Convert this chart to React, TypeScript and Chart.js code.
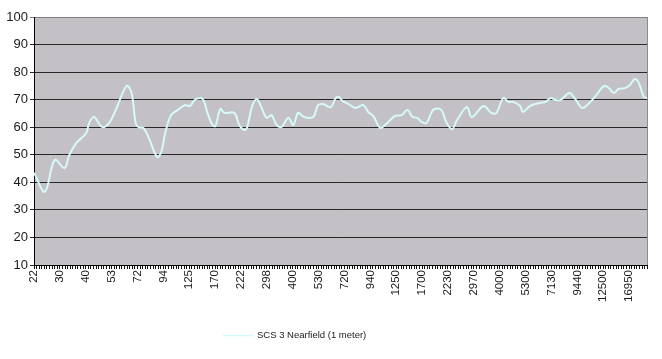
import React, { useEffect, useRef } from 'react';
import { Chart, registerables } from 'chart.js';

Chart.register(...registerables);

// Category tick labels (every 10th category of the 1/24-octave frequency axis)
const TICK_LABELS = ['22', '30', '40', '53', '72', '94', '125', '170', '222', '298', '400', '530', '720', '940', '1250', '1700', '2230', '2970', '4000', '5300', '7130', '9440', '12500', '16950'];
const LAST_CATEGORY = 237;
const SERIES_NAME = 'SCS 3 Nearfield (1 meter)';

// Category position of each read-off point
const POINT_INDEX = [
  0, 4.2, 8.0, 11.8, 13.7, 16.4, 20.2, 21.3, 23.2, 26.3, 29, 31.6, 35.8, 37.7, 39.3, 40.4, 42.3, 44.2, 47.6, 49.2,
  50.7, 53, 55.6, 58.3, 60.2, 62.5, 65.2, 67.1, 69, 70.1, 72, 73.6, 77.4, 79.3, 81.2, 82.3, 84.2, 86.1, 88, 89.9,
  91.8, 93.8, 95.7, 98.3, 100.2, 102.1, 104.4, 107.9, 109.8, 111.7, 114.7, 116.6, 117.8, 119.3, 121.6, 124.2, 127.3, 129.2, 131.1, 133.8,
  135.7, 139.5, 142.1, 144.4, 146.3, 148.2, 149.8, 151.7, 153.6, 154.7, 157.4, 159.3, 161.6, 163.5, 167.3, 169.2, 173.8, 176.8, 178.7, 181.4,
  183.3, 185.2, 187.9, 189, 191.7, 195.5, 197.8, 199.7, 201.6, 203.5, 206.9, 209.2, 211.9, 214.6, 216.8, 220.3, 222.2, 224.1, 226, 228.4,
  230.3, 232.2, 233.8, 235.7, 237,
];

// SPL readings (dB)
const LEVEL_DB = [
  43.5, 36.6, 48.1, 45.2, 50, 54.3, 57.9, 61.5, 63.7, 60.1, 61.5, 66.3, 75, 72.4, 61.5, 60, 59.7, 56.5, 49.2, 51,
  57.9, 64.4, 66.3, 68, 67.7, 70.2, 70.2, 65, 60.8, 60.4, 66.6, 65.2, 65.2, 60.8, 59, 59.7, 67.3, 70.2, 67, 63.4,
  64.4, 60.8, 60.1, 63.4, 60.8, 65.2, 63.7, 63.7, 68, 68.4, 67.3, 70.6, 71, 69.5, 68.4, 67, 68, 65.5, 64.1, 59.7,
  60.8, 64.1, 64.4, 66.3, 63.7, 63.4, 61.9, 61.5, 65.3, 66.6, 66.3, 61.9, 59.3, 62.6, 67.3, 63.7, 67.7, 65.2, 65.2, 70.6,
  69.2, 69.2, 67.7, 65.5, 67.7, 68.8, 69.2, 70.6, 69.9, 69.9, 72.4, 70.2, 67, 68.8, 71, 75, 74.2, 72.4, 73.9, 74.2,
  75.3, 77.5, 76, 71, 70.6,
];

const Y_MIN = 10;
const Y_MAX = 100;
const Y_STEP = 10;

const LINE_COLOR = '#d6fafa';
const PLOT_BG = '#c3c1c5';
const FONT = 'Arial, "Liberation Sans", sans-serif';

const excelLook = {
  id: 'excelLook',
  beforeDraw(chart: any) {
    const { ctx, chartArea: a } = chart;
    ctx.save();
    ctx.fillStyle = PLOT_BG;
    ctx.fillRect(a.left, a.top, a.right - a.left, a.bottom - a.top);
    ctx.restore();
  },
  afterDraw(chart: any) {
    const { ctx, chartArea: a } = chart;
    ctx.save();
    // right border of the plot area
    ctx.strokeStyle = '#8c8c8c';
    ctx.lineWidth = 1;
    ctx.beginPath();
    ctx.moveTo(Math.round(a.right) + 0.5, a.top);
    ctx.lineTo(Math.round(a.right) + 0.5, a.bottom);
    ctx.stroke();
    // legend
    const ds = chart.data.datasets[0];
    const ly = 335.5;
    ctx.strokeStyle = ds.borderColor;
    ctx.lineWidth = 1.5;
    ctx.beginPath();
    ctx.moveTo(223, ly);
    ctx.lineTo(253, ly);
    ctx.stroke();
    ctx.fillStyle = '#1a1a1a';
    ctx.font = '9.5px ' + FONT;
    ctx.textBaseline = 'middle';
    ctx.textAlign = 'left';
    ctx.fillText(ds.label, 257, ly);
    ctx.restore();
  },
};

export default function App() {
  const ref = useRef<HTMLCanvasElement | null>(null);

  useEffect(() => {
    const canvas = ref.current;
    if (!canvas) return;
    const chart = new Chart(canvas, {
      type: 'line',
      data: {
        datasets: [
          {
            label: SERIES_NAME,
            data: POINT_INDEX.map((x, i) => ({ x, y: LEVEL_DB[i] })),
            borderColor: LINE_COLOR,
            borderWidth: 2,
            pointRadius: 0,
            tension: 0.35,
            fill: false,
          },
        ],
      },
      options: {
        responsive: false,
        animation: false,
        events: [],
        layout: { padding: { left: 0, top: 17, right: 6, bottom: 0 } },
        plugins: {
          legend: { display: false },
          tooltip: { enabled: false },
        },
        scales: {
          x: {
            type: 'linear',
            min: 0,
            max: LAST_CATEGORY,
            afterFit: (s: any) => {
              s.height = 94;
            },
            grid: {
              drawOnChartArea: false,
              drawTicks: true,
              tickLength: 4,
              color: '#111',
            },
            border: { display: true, color: '#000', width: 1 },
            ticks: {
              stepSize: 1,
              maxTicksLimit: 1000,
              autoSkip: false,
              minRotation: 90,
              maxRotation: 90,
              padding: 1,
              color: '#1a1a1a',
              font: { family: FONT, size: 11.5 },
              callback: (v: any) => {
                const n = Number(v);
                if (Number.isInteger(n) && n % 10 === 0) return TICK_LABELS[n / 10] ?? '';
                return '';
              },
            },
          },
          y: {
            min: Y_MIN,
            max: Y_MAX,
            afterFit: (s: any) => {
              s.width = 34;
            },
            grid: {
              color: (c: any) => (c.tick && c.tick.value === Y_MAX ? '#808080' : '#262626'),
              tickLength: 4,
              drawTicks: true,
            },
            border: { display: true, color: '#000', width: 1 },
            ticks: {
              stepSize: Y_STEP,
              padding: 2,
              color: '#1a1a1a',
              font: { family: FONT, size: 13 },
            },
          },
        },
      },
      plugins: [excelLook],
    } as any);
    return () => chart.destroy();
  }, []);

  return (
    <div style={{ position: 'fixed', left: 0, top: 0, width: 662, height: 359, background: '#fff' }}>
      <canvas ref={ref} width={662} height={359} />
    </div>
  );
}
